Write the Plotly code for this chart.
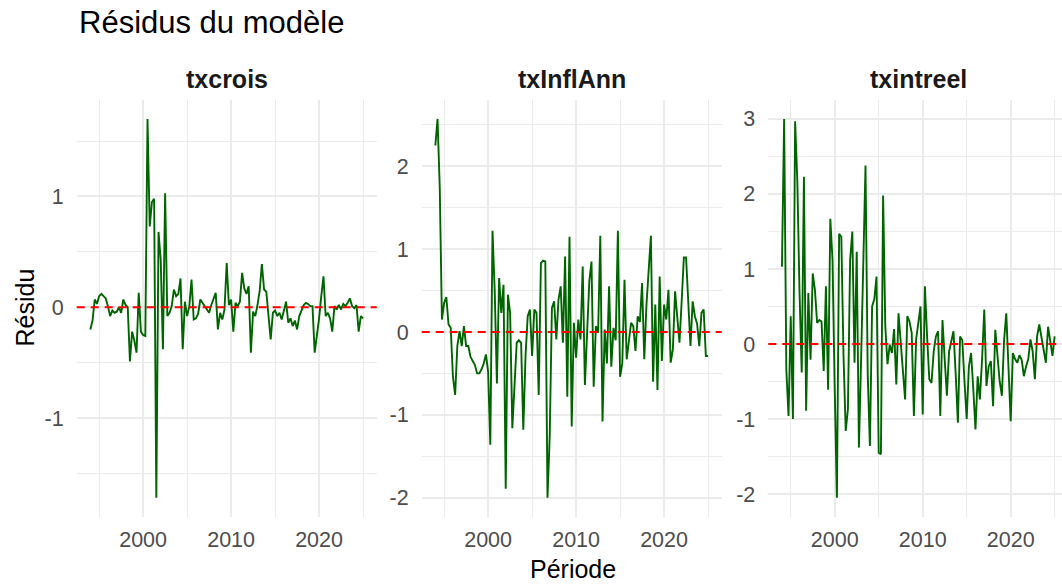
import pandas as pd
import plotly.graph_objects as go

# Quarterly periods 1994Q1 .. 2025Q1, plotted at the start of each quarter
periods = pd.period_range("1994Q1", "2025Q1", freq="Q")
periode = (periods.year + (periods.quarter - 1) / 4).to_numpy(float)

# Model residuals, one value per quarter
txcrois = [
    -0.20, -0.12, 0.07, 0.03, 0.10, 0.12, 0.10, 0.08, 0.01, -0.08,
    -0.03, -0.05, -0.04, 0.00, -0.05, 0.07, 0.02, 0.00, -0.49, -0.22,
    -0.30, -0.41, 0.13, -0.22, -0.25, -0.26, 1.70, 0.73, 0.95, 0.98,
    -1.72, 0.68, 0.43, -0.38, 1.03, -0.08, -0.05, 0.01, 0.16, 0.10,
    0.12, 0.26, -0.38, 0.05, -0.08, 0.01, 0.25, -0.11, -0.10, -0.06,
    0.07, 0.04, 0.00, -0.03, -0.05, 0.02, 0.07, 0.13, -0.20, -0.05,
    -0.11, -0.02, 0.40, 0.02, 0.07, -0.22, 0.04, 0.01, 0.05, 0.31,
    0.17, 0.12, 0.19, -0.41, -0.04, -0.08, 0.02, 0.15, 0.39, 0.16,
    0.14, -0.10, -0.29, -0.05, -0.03, -0.08, -0.05, -0.11, -0.02, 0.05,
    -0.14, -0.10, -0.17, -0.12, -0.20, -0.08, -0.03, 0.02, 0.04, 0.03,
    0.01, 0.01, -0.41, -0.26, -0.10, 0.10, 0.28, -0.08, -0.05, -0.10,
    -0.22, 0.01, -0.02, 0.02, -0.02, 0.03, 0.01, 0.04, 0.08, 0.01,
    -0.01, 0.02, -0.22, -0.08, -0.10,
]
txinflann = [
    2.25, 2.57, 1.75, 0.15, 0.35, 0.42, 0.09, 0.05, -0.54, -0.76,
    -0.17, 0.01, -0.17, 0.07, -0.17, -0.17, -0.30, -0.36, -0.40, -0.50,
    -0.50, -0.45, -0.38, -0.27, -0.48, -1.36, 1.22, 0.49, -0.62, 0.65,
    0.23, 0.57, -1.89, 0.45, 0.23, -1.16, -0.54, -0.13, -0.10, -0.13,
    -1.18, -0.29, 0.19, 0.27, -0.29, 0.27, 0.23, -0.76, 0.83, 0.86,
    0.85, -2.00, -1.26, 0.29, 0.37, -0.09, 0.39, 0.55, -0.13, 0.91,
    -0.78, 1.15, -1.14, 0.11, -0.31, 0.15, -0.09, 0.79, -0.64, -0.09,
    0.61, 0.85, -0.66, 0.07, -0.01, 1.16, -1.08, 0.03, -0.38, 0.55,
    -0.42, 0.05, -0.10, 1.22, -0.54, -0.38, 0.63, -0.33, -0.09, 0.11,
    0.07, -0.23, 0.19, 0.12, 0.59, -0.33, 0.33, 0.71, 1.16, -0.60,
    0.33, -0.70, 0.67, -0.35, 0.33, 0.15, 0.51, -0.37, -0.21, 0.49,
    0.20, -0.13, 0.37, 0.90, 0.90, 0.39, -0.17, 0.37, 0.19, 0.10,
    -0.17, 0.23, 0.27, -0.29, -0.29,
]
txintreel = [
    1.03, 3.00, -0.35, -0.96, 0.37, -1.00, 2.97, 2.18, 0.68, -0.38,
    2.23, -0.89, 0.68, -0.21, 0.94, 0.72, 0.28, 0.32, 0.30, -0.36,
    0.77, -0.61, 1.67, 1.12, -0.61, -2.05, 1.47, 1.43, -0.16, -1.16,
    -0.87, 1.12, 1.50, -0.25, 1.23, -1.38, -0.20, 1.30, 2.38, -0.40,
    -1.36, 0.50, 0.60, 0.90, -1.45, -1.47, 1.98, 0.23, -0.27, -0.01,
    -0.12, 0.20, -0.54, 0.41, 0.06, -0.30, -0.74, 0.37, 0.30, 0.15,
    -0.96, 0.06, 0.30, 0.50, -0.94, 0.77, 0.10, -0.47, -0.52, -0.10,
    0.10, 0.17, -0.96, 0.32, -0.20, -0.69, -0.10, 0.05, 0.17, -0.40,
    -1.05, 0.10, 0.05, -0.50, -1.00, -0.30, -0.12, -0.60, -1.14, -0.43,
    -0.74, -0.20, 0.46, -0.56, -0.30, -0.23, -0.83, 0.19, -0.20, -0.50,
    -0.69, 0.05, 0.41, -0.30, -1.03, -0.12, -0.20, -0.25, -0.15, -0.21,
    -0.43, -0.30, -0.20, 0.06, -0.10, -0.47, 0.10, 0.26, 0.10, -0.10,
    -0.25, 0.23, 0.05, -0.16, 0.10,
]

series_names = ["txcrois", "txInflAnn", "txintreel"]
series_values = [txcrois, txinflann, txintreel]

x_ticks = [2000, 2010, 2020]
x_minor = [1995, 2005, 2015, 2025]
y_ticks = [[-1, 0, 1], [-2, -1, 0, 1, 2], [-2, -1, 0, 1, 2, 3]]
ZERO_LINE = 0

# ---- page geometry (pixels) ----
W, H = 1062, 584
PANEL_LEFT = [76.7, 421.7, 768.3]
PANEL_W = 300.0
PANEL_TOP, PANEL_BOTTOM = 100.0, 516.7

FONT = "Liberation Sans, Arial, Helvetica, sans-serif"
GRID = "#EBEBEB"
TICK_COL = "#4D4D4D"


def expand(lo, hi, frac=0.05):
    pad = (hi - lo) * frac
    return lo - pad, hi + pad


def fmt(v):
    return f"{v:g}"


fig = go.Figure()

x_lo, x_hi = expand(periode.min(), periode.max())

for k, (name, vals) in enumerate(zip(series_names, series_values)):
    suffix = "" if k == 0 else str(k + 1)
    left = PANEL_LEFT[k]
    right = min(left + PANEL_W, W)
    visible = (right - left) / PANEL_W
    xr = [x_lo, x_lo + (x_hi - x_lo) * visible]
    yr = list(expand(min(vals), max(vals)))

    y_minor = [t + 0.5 for t in range(-4, 4) if yr[0] <= t + 0.5 <= yr[1]]

    fig.add_trace(go.Scatter(
        x=periode, y=vals, mode="lines",
        line=dict(color="#006400", width=1.9),
        xaxis="x" + suffix, yaxis="y" + suffix,
        showlegend=False, hoverinfo="skip",
    ))

    fig.update_layout(**{
        "xaxis" + suffix: dict(
            domain=[left / W, right / W], range=xr, anchor="y" + suffix,
            tickmode="array", tickvals=x_ticks, ticktext=[str(t) for t in x_ticks],
            showgrid=True, gridcolor=GRID, gridwidth=1.9,
            minor=dict(tickmode="array", tickvals=x_minor, showgrid=True,
                       gridcolor=GRID, gridwidth=1),
            zeroline=False, showline=False, ticks="",
            ticklabelstandoff=8,
            tickfont=dict(family=FONT, size=21.5, color=TICK_COL),
        ),
        "yaxis" + suffix: dict(
            domain=[1 - PANEL_BOTTOM / H, 1 - PANEL_TOP / H], range=yr,
            anchor="x" + suffix,
            tickmode="array", tickvals=y_ticks[k],
            ticktext=[fmt(t) for t in y_ticks[k]],
            showgrid=True, gridcolor=GRID, gridwidth=1.9,
            minor=dict(tickmode="array", tickvals=y_minor, showgrid=True,
                       gridcolor=GRID, gridwidth=1),
            zeroline=False, showline=False, ticks="",
            ticklabelstandoff=12,
            tickfont=dict(family=FONT, size=21.5, color=TICK_COL),
        ),
    })

    # red dashed reference line at zero
    fig.add_shape(
        type="line", xref="x" + suffix + " domain", yref="y" + suffix,
        x0=0, x1=1, y0=ZERO_LINE, y1=ZERO_LINE, layer="above",
        line=dict(color="#FF0000", width=2, dash="8px,6px"),
    )

    # facet strip label
    fig.add_annotation(
        text="<b>" + name + "</b>", xref="paper", yref="paper",
        x=(left + PANEL_W / 2) / W, y=1 - 79 / H,
        xanchor="center", yanchor="middle", showarrow=False,
        font=dict(family=FONT, size=25, color="#1A1A1A"),
    )

fig.add_annotation(
    text="Résidus du modèle", xref="paper", yref="paper",
    x=77 / W, y=1 - 23 / H, xanchor="left", yanchor="middle", showarrow=False,
    font=dict(family=FONT, size=31, color="#000000"),
)
fig.add_annotation(
    text="Période", xref="paper", yref="paper",
    x=(PANEL_LEFT[0] + PANEL_LEFT[2] + PANEL_W) / 2 / W, y=1 - 569 / H,
    xanchor="center", yanchor="middle", showarrow=False,
    font=dict(family=FONT, size=25, color="#000000"),
)
fig.add_annotation(
    text="Résidu", xref="paper", yref="paper", textangle=-90,
    x=24 / W, y=1 - 307.5 / H, xanchor="center", yanchor="middle",
    showarrow=False, font=dict(family=FONT, size=25, color="#000000"),
)

fig.update_layout(
    width=W, height=H, margin=dict(l=0, r=0, t=0, b=0),
    paper_bgcolor="white", plot_bgcolor="white",
    font=dict(family=FONT),
)

fig.write_html("out.html")
